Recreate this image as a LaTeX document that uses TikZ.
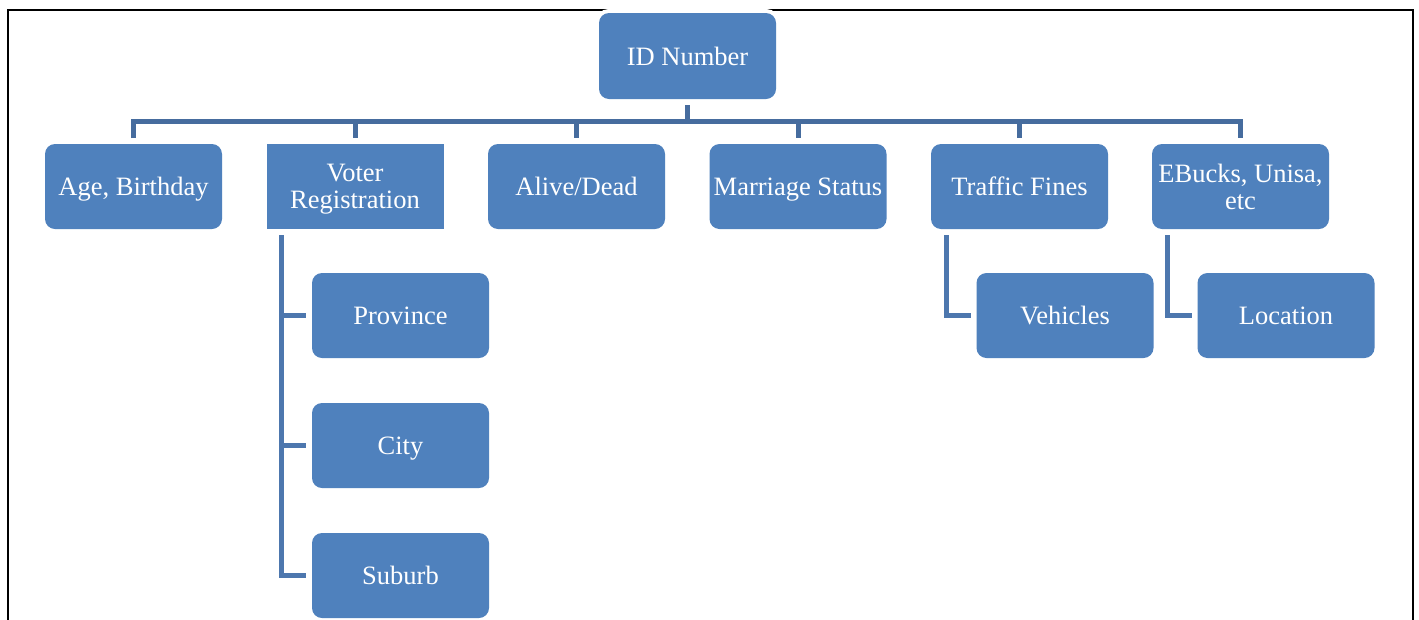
\documentclass[tikz,border=0pt]{standalone}
\usepackage{fontspec}
\setmainfont{Liberation Serif}
\definecolor{boxblue}{HTML}{4F81BD}
\definecolor{busblue}{HTML}{466C9E}
\definecolor{kidblue}{HTML}{4D77AE}
\tikzset{
  basebox/.style={rectangle, rounded corners=10pt, fill=boxblue, text=white,
    preaction={draw=white, line width=8pt},
    minimum width=177pt, minimum height=85pt, inner sep=0pt, outer sep=6pt,
    align=center, font=\fontsize{26.5}{27}\selectfont, text depth=0pt},
  box/.style={basebox, text height=18pt},
  twobox/.style={basebox},
  sqtwobox/.style={basebox, sharp corners},
  conn/.style={draw=busblue, line width=5pt, line join=miter},
  kidconn/.style={draw=kidblue, line width=5pt, line join=miter},
  frame/.style={draw=black, line width=2pt}
}
\begin{document}
\begin{tikzpicture}[x=1pt,y=-1pt]
\clip (0,0) rectangle (1419,619);
\fill[white] (0,0) rectangle (1419,619);
% frame
\draw[frame] (8.3,640) -- (8.3,10.3) -- (1413.3,10.3) -- (1413.3,640);
% nodes
\node[box, minimum height=86pt] (id) at (687.5,56) {ID Number};
\node[box] (age) at (133.5,186.5) {Age, Birthday};
\node[sqtwobox] (voter) at (355,186.5) {Voter\\Registration};
\node[box] (alive) at (576.5,186.5) {Alive/Dead};
\node[box] (marriage) at (798,186.5) {Marriage Status};
\node[box] (traffic) at (1019.5,186.5) {Traffic Fines};
\node[twobox] (ebucks) at (1240.5,186.5) {EBucks, Unisa,\\etc};
\node[box] (province) at (400.5,315.5) {Province};
\node[box] (city) at (400.5,445.5) {City};
\node[box] (suburb) at (400.5,575.5) {Suburb};
\node[box] (vehicles) at (1065,315.5) {Vehicles};
\node[box] (location) at (1286,315.5) {Location};
% top tree
\coordinate (bus) at ([yshift=-16.5pt]id.south);
\draw[conn] (id.south) -- (bus);
\draw[conn] (age.north) |- (bus) -| (ebucks.north);
\draw[conn] (bus -| voter.north) -- (voter.north);
\draw[conn] (bus -| alive.north) -- (alive.north);
\draw[conn] (bus -| marriage.north) -- (marriage.north);
\draw[conn] (bus -| traffic.north) -- (traffic.north);
% children
\coordinate (vroot) at ([xshift=21pt]voter.south west);
\draw[kidconn] (vroot) |- (province.west);
\draw[kidconn] (vroot) |- (city.west);
\draw[kidconn] (vroot) |- (suburb.west);
\coordinate (troot) at ([xshift=21pt]traffic.south west);
\draw[kidconn] (troot) |- (vehicles.west);
\coordinate (eroot) at ([xshift=21pt]ebucks.south west);
\draw[kidconn] (eroot) |- (location.west);
\end{tikzpicture}
\end{document}
